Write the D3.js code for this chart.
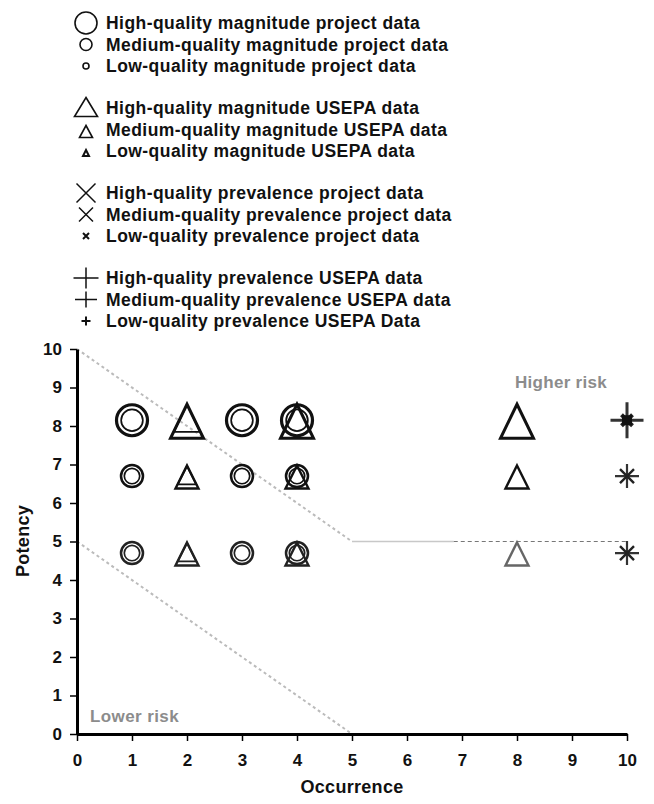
<!DOCTYPE html>
<html>
<head>
<meta charset="utf-8">
<script src="https://cdn.jsdelivr.net/npm/d3@7"></script>
<style>
  html, body { margin: 0; padding: 0; background: #fff; }
  svg { display: block; }
  text { font-family: "Liberation Sans", Arial, Helvetica, sans-serif; font-weight: bold; }
</style>
</head>
<body>
<svg id="chart" width="654" height="804"></svg>
<script>
// ---- data ----
const xTicks = [0, 1, 2, 3, 4, 5, 6, 7, 8, 9, 10];
const yTicks = [0, 1, 2, 3, 4, 5, 6, 7, 8, 9, 10];

// Magnitude data from the project (circles); records = overlapping entries at a spot
const magnitudeProject = [
  { occurrence: 1, potency: 8.15, quality: "High",   records: 2 },
  { occurrence: 3, potency: 8.15, quality: "High",   records: 2 },
  { occurrence: 4, potency: 8.15, quality: "High",   records: 2 },
  { occurrence: 1, potency: 6.7,  quality: "Medium", records: 2 },
  { occurrence: 3, potency: 6.7,  quality: "Medium", records: 2 },
  { occurrence: 4, potency: 6.7,  quality: "Medium", records: 2 },
  { occurrence: 1, potency: 4.7,  quality: "Low",    records: 2 },
  { occurrence: 3, potency: 4.7,  quality: "Low",    records: 2 },
  { occurrence: 4, potency: 4.7,  quality: "Low",    records: 2 }
];

// Magnitude data from USEPA (triangles)
const magnitudeUSEPA = [
  { occurrence: 2, potency: 8.15, quality: "High",   records: 2 },
  { occurrence: 4, potency: 8.15, quality: "High",   records: 1 },
  { occurrence: 8, potency: 8.15, quality: "High",   records: 1 },
  { occurrence: 2, potency: 6.7,  quality: "Medium", records: 2 },
  { occurrence: 4, potency: 6.7,  quality: "Medium", records: 1 },
  { occurrence: 8, potency: 6.7,  quality: "Medium", records: 1 },
  { occurrence: 2, potency: 4.7,  quality: "Low",    records: 2 },
  { occurrence: 4, potency: 4.7,  quality: "Low",    records: 1 },
  { occurrence: 8, potency: 4.7,  quality: "Low",    records: 1 }
];

// Prevalence data from the project (x marks)
const prevalenceProject = [
  { occurrence: 10, potency: 8.15, quality: "High" },
  { occurrence: 10, potency: 6.7,  quality: "Medium" },
  { occurrence: 10, potency: 4.7,  quality: "Low" }
];

// Prevalence data from USEPA (plus marks)
const prevalenceUSEPA = [
  { occurrence: 10, potency: 8.15, quality: "High" },
  { occurrence: 10, potency: 6.7,  quality: "Medium" },
  { occurrence: 10, potency: 4.7,  quality: "Low" }
];

// Risk boundaries (occurrence, potency)
const upperBoundary = [[0, 10], [5, 5]];
const upperPlateauSolid = [[5, 5], [6.85, 5]];
const upperPlateauDashed = [[6.85, 5], [10, 5]];
const lowerBoundary = [[0, 5], [5, 0]];

const legendShapes = ["circle", "triangle", "cross", "plus"];
const legendQualities = ["High", "Medium", "Low"];
const legendLabels = [
  ["High-quality magnitude project data", "Medium-quality magnitude project data", "Low-quality magnitude project data"],
  ["High-quality magnitude USEPA data", "Medium-quality magnitude USEPA data", "Low-quality magnitude USEPA data"],
  ["High-quality prevalence project data", "Medium-quality prevalence project data", "Low-quality prevalence project data"],
  ["High-quality prevalence USEPA data", "Medium-quality prevalence USEPA data", "Low-quality prevalence USEPA Data"]
];

// ---- drawing ----
const svg = d3.select("#chart");
svg.append("rect").attr("width", 654).attr("height", 804).attr("fill", "#fff");

const x = d3.scaleLinear().domain([0, 10]).range([77, 627]);
const y = d3.scaleLinear().domain([0, 10]).range([734, 349]);

// symbol geometry helpers
function triPath(w, h, dy = 0) {
  return `M0,${-h / 2 + dy}L${w / 2},${h / 2 + dy}L${-w / 2},${h / 2 + dy}Z`;
}
function crossPath(s) {
  const a = s / 2;
  return `M${-a},${-a}L${a},${a}M${-a},${a}L${a},${-a}`;
}
function plusPath(w, h) {
  return `M${-w / 2},0L${w / 2},0M0,${-h / 2}L0,${h / 2}`;
}

// risk boundary lines
const line = d3.line().x(d => x(d[0])).y(d => y(d[1]));
const guides = svg.append("g").attr("fill", "none");
guides.append("path").attr("d", line(upperBoundary))
  .attr("stroke", "#bbbbbb").attr("stroke-width", 2).attr("stroke-dasharray", "3,3");
guides.append("path").attr("d", line(lowerBoundary))
  .attr("stroke", "#bbbbbb").attr("stroke-width", 2).attr("stroke-dasharray", "3,3");
guides.append("path").attr("d", line(upperPlateauSolid))
  .attr("stroke", "#c8c8c8").attr("stroke-width", 1.5);
guides.append("path").attr("d", line(upperPlateauDashed))
  .attr("stroke", "#777").attr("stroke-width", 1).attr("stroke-dasharray", "4,3");

// region labels
svg.append("text").attr("x", 561).attr("y", 388).attr("text-anchor", "middle")
  .attr("font-size", 17).attr("letter-spacing", 0.3).attr("fill", "#8c8c8c").text("Higher risk");
svg.append("text").attr("x", 90).attr("y", 722)
  .attr("font-size", 17).attr("letter-spacing", 0.4).attr("fill", "#8c8c8c").text("Lower risk");

// axes
const yAxis = svg.append("g").attr("transform", `translate(${x(0)},0)`)
  .call(d3.axisLeft(y).tickValues(yTicks).tickFormat(d3.format("d")).tickSize(7).tickSizeOuter(0).tickPadding(8));
const xAxis = svg.append("g").attr("transform", `translate(0,${y(0)})`)
  .call(d3.axisBottom(x).tickValues(xTicks).tickFormat(d3.format("d")).tickSize(7).tickSizeOuter(0).tickPadding(13));
[yAxis, xAxis].forEach(g => {
  g.select(".domain").attr("stroke", "#000").attr("stroke-width", 3);
  g.selectAll(".tick line").attr("stroke", "#000").attr("stroke-width", 1.5);
  g.selectAll(".tick text").attr("font-size", 17).attr("font-weight", "bold")
    .attr("font-family", "'Liberation Sans', Arial, sans-serif").attr("fill", "#111");
});

svg.append("text").attr("x", 352).attr("y", 793).attr("text-anchor", "middle")
  .attr("font-size", 18).attr("letter-spacing", 0.3).attr("fill", "#111").text("Occurrence");
svg.append("text").attr("transform", "translate(29,541) rotate(-90)").attr("text-anchor", "middle")
  .attr("font-size", 18).attr("letter-spacing", 0.3).attr("fill", "#111").text("Potency");

// plotted marks
const plotCircleR = { High: 15.5, Medium: 11, Low: 11 };
const plotTri = { High: [33, 34], Medium: [23, 23], Low: [23, 23] };
const plotStroke = { High: "#111", Medium: "#111", Low: "#222" };

const marks = svg.append("g").attr("fill", "none");

magnitudeUSEPA.forEach(d => {
  const [w, h] = plotTri[d.quality];
  const g = marks.append("g").attr("transform", `translate(${x(d.occurrence)},${y(d.potency) + 1})`);
  const col = d.occurrence === 8 && d.quality === "Low" ? "#666" : plotStroke[d.quality];
  g.append("path").attr("d", triPath(w, h)).attr("stroke", col)
    .attr("stroke-width", d.quality === "High" ? 3 : 2.4).attr("stroke-linejoin", "miter");
  if (d.records > 1) {
    const k = 0.8;
    g.append("path").attr("d", triPath(w * k, h * k, -h / 2 * (1 - k) + 0.5))
      .attr("stroke", col).attr("stroke-width", 1.8);
  }
});

magnitudeProject.forEach(d => {
  const r = plotCircleR[d.quality];
  const g = marks.append("g").attr("transform", `translate(${x(d.occurrence)},${y(d.potency)})`);
  g.append("circle").attr("r", r).attr("stroke", plotStroke[d.quality]).attr("stroke-width", d.quality === "High" ? 3.2 : 2.5);
  if (d.records > 1) {
    g.append("circle").attr("r", r * 0.7).attr("stroke", plotStroke[d.quality]).attr("stroke-width", 1.7);
  }
});

const plotPlus = { High: [33, 36, 3], Medium: [24, 24, 2.2], Low: [24, 24, 2.2] };
const plotCross = { High: [11, 4], Medium: [14, 2.4], Low: [14, 2.4] };

prevalenceUSEPA.forEach(d => {
  const [w, h, sw] = plotPlus[d.quality];
  marks.append("path").attr("transform", `translate(${x(d.occurrence)},${y(d.potency)})`)
    .attr("d", plusPath(w, h)).attr("stroke", "#333").attr("stroke-width", sw);
});
prevalenceProject.forEach(d => {
  const [s, sw] = plotCross[d.quality];
  const g = marks.append("g").attr("transform", `translate(${x(d.occurrence)},${y(d.potency)})`);
  g.append("path").attr("d", crossPath(s)).attr("stroke", "#222").attr("stroke-width", sw);
  if (d.quality === "High") g.append("rect").attr("x", -5).attr("y", -5).attr("width", 10).attr("height", 10).attr("fill", "#111");
});

// legend
const legendCircleR = { High: 11, Medium: 6, Low: 3 };
const legendTri = { High: [23, 19], Medium: [13, 12], Low: [6, 6] };
const legendCross = { High: 19, Medium: 14, Low: 6 };
const legendPlus = { High: [25, 21], Medium: [22, 16], Low: [9, 9] };

const legend = svg.append("g");
legendShapes.forEach((shape, bi) => {
  legendQualities.forEach((q, qi) => {
    const cy = 23 + bi * 85 + qi * 21.5;
    const g = legend.append("g").attr("transform", `translate(86,${cy})`);
    if (shape === "circle") {
      g.append("circle").attr("r", legendCircleR[q]).attr("fill", "none").attr("stroke", "#111").attr("stroke-width", 1.6);
    } else if (shape === "triangle") {
      const [w, h] = legendTri[q];
      g.append("path").attr("d", triPath(w, h, q === "High" ? -1 : 2)).attr("fill", "none").attr("stroke", "#111").attr("stroke-width", q === "Low" ? 2 : 1.6);
    } else if (shape === "cross") {
      g.append("path").attr("d", crossPath(legendCross[q])).attr("fill", "none").attr("stroke", "#111").attr("stroke-width", q === "Low" ? 2 : 1.5);
    } else {
      const [w, h] = legendPlus[q];
      g.append("path").attr("d", plusPath(w, h)).attr("fill", "none").attr("stroke", "#111").attr("stroke-width", q === "Low" ? 2 : 1.5);
    }
    legend.append("text").attr("x", 106).attr("y", cy).attr("dy", "0.36em")
      .attr("font-size", 17.5).attr("letter-spacing", 0.45).attr("fill", "#111")
      .text(legendLabels[bi][qi]);
  });
});
</script>
</body>
</html>
